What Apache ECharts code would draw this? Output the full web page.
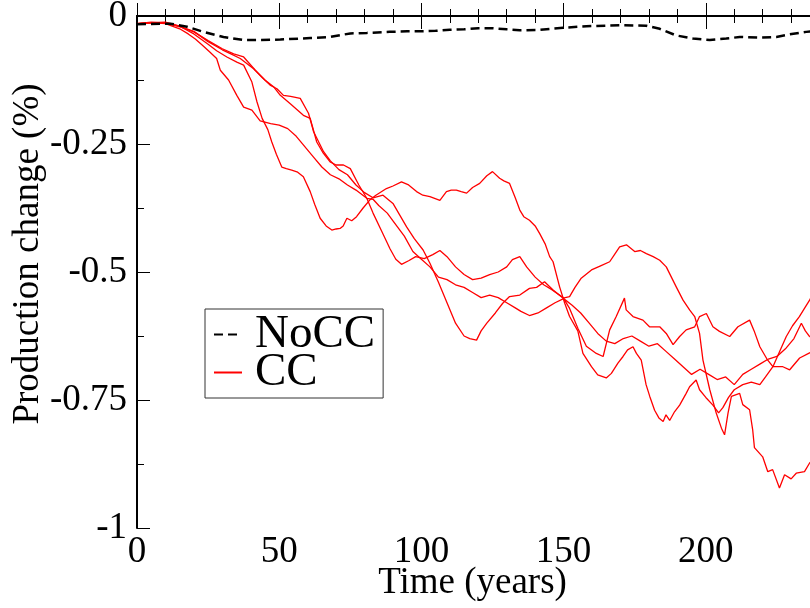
<!DOCTYPE html>
<html>
<head>
<meta charset="utf-8">
<script src="https://cdn.jsdelivr.net/npm/echarts@6/dist/echarts.min.js"></script>
<style>
  html, body { margin: 0; padding: 0; background: #fff; }
  #chart { width: 810px; height: 608px; }
</style>
</head>
<body>
<div id="chart"></div>
<script>
// NoCC run (dashed black)
var noccLine = [
  [0, -0.016], [11.7, -0.015], [17.6, -0.021], [23.4, -0.031], [30.4, -0.041], [37.5, -0.047],
  [42.2, -0.047], [50.4, -0.046], [60.9, -0.043], [67.9, -0.041], [75, -0.034], [80.8, -0.033],
  [88.9, -0.031], [95, -0.030], [100, -0.030], [105, -0.029], [110, -0.027], [115, -0.026],
  [120, -0.024], [125, -0.024], [130, -0.026], [134.6, -0.028], [141.6, -0.027], [149.8, -0.023],
  [158, -0.020], [170.9, -0.018], [179.1, -0.019], [183.8, -0.025], [189.6, -0.038], [195.5, -0.044],
  [201.4, -0.047], [207.2, -0.044], [211.9, -0.041], [218.9, -0.042], [224.8, -0.041], [229.4, -0.036],
  [235.3, -0.031], [240, -0.029]
];

// CC runs (red)
var ccRunA = [
  [0, -0.015], [5, -0.012], [10, -0.014], [15, -0.020], [20, -0.035], [25, -0.055], [28, -0.068],
  [31.6, -0.080], [35.1, -0.090], [37.5, -0.096], [40.4, -0.129], [42.2, -0.168], [44, -0.200],
  [46, -0.222], [47.4, -0.246], [49, -0.270], [50.9, -0.295], [52.5, -0.298], [54.4, -0.301],
  [56.5, -0.305], [58.5, -0.314], [60.9, -0.343], [62.5, -0.368], [64.4, -0.395], [66.5, -0.410],
  [68.5, -0.418], [70, -0.416], [71.4, -0.415], [72.5, -0.410], [73.8, -0.395], [75.5, -0.400],
  [77.2, -0.392], [79.5, -0.375], [81.9, -0.359], [84, -0.350], [87.7, -0.337], [90, -0.332],
  [93, -0.324], [95.5, -0.330], [98.3, -0.343], [100.5, -0.350], [103, -0.353], [106.5, -0.360],
  [108.8, -0.343], [110.5, -0.340], [112.3, -0.340], [114, -0.343], [115.9, -0.346], [118, -0.335],
  [120.5, -0.327], [123, -0.312], [125, -0.304], [127.5, -0.317], [129, -0.322], [131, -0.327],
  [133, -0.355], [134.6, -0.379], [136, -0.392], [138, -0.399], [140, -0.410], [141.6, -0.425],
  [143.5, -0.445], [145.1, -0.470], [146.3, -0.480], [148.6, -0.529], [150.4, -0.561], [152.1, -0.587],
  [155, -0.615], [156.8, -0.659], [159.8, -0.685], [162, -0.701], [165, -0.707], [166.8, -0.698],
  [169.1, -0.678], [170.9, -0.665], [172.5, -0.652], [174.4, -0.646], [175.6, -0.659], [177.3, -0.672],
  [179, -0.720], [180.3, -0.743], [182, -0.770], [183.5, -0.785], [185, -0.792], [186, -0.779],
  [187.3, -0.790], [189, -0.773], [190.8, -0.760], [193.1, -0.737], [194.3, -0.724], [196.6, -0.711],
  [197.8, -0.730], [200, -0.745], [202.5, -0.760], [204.5, -0.775], [206, -0.765], [208, -0.745],
  [210, -0.730], [213, -0.720], [216, -0.715], [219, -0.720], [221, -0.705], [223.6, -0.685],
  [226, -0.655], [228.3, -0.626], [230.5, -0.605], [232.9, -0.587], [234.8, -0.570], [236.5, -0.555],
  [238, -0.540]
];
var ccRunB = [
  [0, -0.015], [5, -0.013], [10, -0.012], [15, -0.020], [20, -0.030], [25, -0.050], [30, -0.066],
  [33, -0.074], [36.3, -0.083], [41, -0.103], [44, -0.120], [46.8, -0.135], [49.2, -0.142],
  [51.5, -0.155], [54, -0.157], [57.4, -0.161], [60.3, -0.190], [62.1, -0.226], [65.6, -0.265],
  [68, -0.283], [71, -0.300], [74, -0.310], [77, -0.330], [80, -0.345], [83, -0.355], [86.5, -0.350],
  [90, -0.366], [92.5, -0.390], [94.8, -0.412], [97.5, -0.435], [100.6, -0.457], [103, -0.483],
  [106, -0.520], [109, -0.560], [112, -0.600], [115, -0.625], [117, -0.630], [119.4, -0.633],
  [121, -0.615], [123, -0.600], [126, -0.580], [128.6, -0.561], [131, -0.548], [134.6, -0.545],
  [138, -0.532], [140.5, -0.530], [143.3, -0.519], [146.3, -0.535], [149.8, -0.551], [152.1, -0.548],
  [154, -0.530], [156.2, -0.512], [159.8, -0.496], [163, -0.488], [166.2, -0.480], [168, -0.465],
  [169.7, -0.451], [172.1, -0.447], [175, -0.460], [177, -0.458], [179.1, -0.464], [181.5, -0.470],
  [183.8, -0.477], [186.1, -0.490], [189.6, -0.529], [192, -0.555], [194.3, -0.574], [196.1, -0.587],
  [197.8, -0.620], [199, -0.672], [201.4, -0.730], [203.7, -0.776], [205.5, -0.805], [206.6, -0.818],
  [207.8, -0.776], [209, -0.743], [211.9, -0.737], [213, -0.759], [215.4, -0.769], [216.5, -0.809],
  [217.1, -0.843], [220, -0.861], [221.8, -0.890], [223.5, -0.886], [225.9, -0.922], [227.7, -0.896],
  [230, -0.904], [231.8, -0.893], [234.7, -0.890], [236.5, -0.873], [238, -0.865]
];
var ccRunC = [
  [0, -0.015], [5, -0.014], [10, -0.013], [15, -0.021], [20, -0.031], [25, -0.048], [30, -0.064],
  [34, -0.074], [37.5, -0.080], [41.6, -0.106], [45, -0.125], [48, -0.138], [50.4, -0.155],
  [54, -0.172], [58.5, -0.194], [60.9, -0.200], [63.2, -0.246], [65.5, -0.268], [67.9, -0.285],
  [70, -0.291], [72.6, -0.291], [75, -0.298], [78, -0.330], [80.8, -0.356], [83, -0.358],
  [85, -0.370], [88, -0.385], [90, -0.400], [94, -0.430], [97, -0.460], [100, -0.475], [103, -0.490],
  [106, -0.510], [109, -0.515], [112, -0.525], [115, -0.530], [118, -0.540], [121, -0.550],
  [124, -0.545], [127, -0.550], [130, -0.560], [133, -0.570], [135, -0.577], [138, -0.585],
  [141, -0.580], [144, -0.570], [147, -0.560], [150, -0.552], [153, -0.565], [156, -0.580],
  [159, -0.600], [162, -0.620], [165, -0.635], [168, -0.640], [171, -0.630], [174, -0.625],
  [177, -0.635], [180, -0.645], [183, -0.640], [186, -0.655], [189, -0.670], [192, -0.685],
  [195, -0.700], [198, -0.690], [201, -0.700], [204, -0.710], [207, -0.705], [210, -0.720],
  [213, -0.700], [216, -0.690], [219, -0.680], [222, -0.670], [225, -0.665], [228, -0.650],
  [231, -0.630], [233.6, -0.600], [235, -0.615], [236.5, -0.626], [238, -0.630]
];
var ccRunD = [
  [0, -0.015], [5, -0.013], [10, -0.015], [15, -0.025], [18, -0.035], [20.5, -0.045], [23, -0.057],
  [25.5, -0.070], [28, -0.083], [29.3, -0.106], [32.2, -0.125], [35.1, -0.155], [37.5, -0.178],
  [40.4, -0.184], [43.3, -0.205], [47, -0.210], [50, -0.213], [53, -0.220], [56, -0.235],
  [59, -0.255], [62, -0.275], [65, -0.295], [68, -0.310], [71, -0.318], [74, -0.330], [77, -0.340],
  [80.8, -0.356], [83, -0.385], [86, -0.420], [89, -0.455], [91, -0.475], [93, -0.485], [95.5, -0.478],
  [98, -0.470], [101, -0.474], [104, -0.466], [106.5, -0.458], [109, -0.470], [112, -0.490],
  [115, -0.505], [118, -0.515], [121, -0.512], [124, -0.505], [127, -0.500], [130, -0.490],
  [132, -0.476], [134.6, -0.470], [137, -0.490], [140, -0.510], [143, -0.525], [146, -0.535],
  [149.8, -0.550], [152, -0.570], [155, -0.610], [158, -0.645], [161.5, -0.659], [163.9, -0.665],
  [166.2, -0.613], [168.5, -0.587], [171.4, -0.551], [172, -0.574], [174.4, -0.587], [177.9, -0.594],
  [180.2, -0.607], [183.8, -0.607], [186.1, -0.620], [188.5, -0.642], [190.8, -0.626], [193.1, -0.613],
  [196.1, -0.607], [197.8, -0.587], [200.2, -0.581], [202.5, -0.607], [204.8, -0.616], [208.4, -0.626],
  [211.3, -0.607], [215.4, -0.594], [217, -0.615], [219, -0.646], [221.5, -0.670], [223.6, -0.685],
  [227.1, -0.685], [229.5, -0.691], [233, -0.668], [236.5, -0.658], [238, -0.655]
];

var ccRuns = [ccRunA, ccRunB, ccRunC, ccRunD];

var serifFont = '"Liberation Serif", "DejaVu Serif", serif';

var chart = echarts.init(document.getElementById('chart'), null, { renderer: 'canvas' });

var series = [{
  name: 'NoCC',
  type: 'line',
  data: noccLine,
  symbol: 'none',
  z: 5,
  lineStyle: { color: '#000', width: 2.5, type: [9, 5] },
  itemStyle: { color: '#000' }
}];
ccRuns.forEach(function (run) {
  series.push({
    name: 'CC',
    type: 'line',
    data: run,
    symbol: 'none',
    z: 3,
    lineStyle: { color: '#ff0000', width: 1.3 },
    itemStyle: { color: '#ff0000' }
  });
});

var xAxisBase = {
  type: 'value',
  min: 0,
  max: 250,
  interval: 50,
  splitLine: { show: false },
  axisLine: { show: true, lineStyle: { color: '#000', width: 2 } },
  axisTick: { show: true, inside: true, length: 13, lineStyle: { color: '#000', width: 1 } },
  minorTick: { show: true, splitNumber: 5, length: 7, lineStyle: { color: '#000', width: 1 } }
};

var op = {
  animation: false,
  backgroundColor: '#fff',
  grid: {
    left: 137,
    right: -38,
    top: 16,
    bottom: 80,
    containLabel: false,
    outerBoundsMode: 'none'
  },
  legend: {
    data: ['NoCC', 'CC'],
    orient: 'vertical',
    left: 205,
    top: 309,
    padding: [2, 8, 2, 8],
    itemGap: -9,
    itemWidth: 28,
    itemHeight: 10,
    borderColor: '#333',
    borderWidth: 1,
    backgroundColor: '#fff',
    selectedMode: false,
    itemStyle: { opacity: 0 },
    textStyle: { fontFamily: serifFont, fontSize: 47, color: '#000', padding: [0, 0, 0, 8] }
  },
  xAxis: [
    Object.assign({}, xAxisBase, {
      position: 'bottom',
      name: 'Time (years)',
      nameLocation: 'middle',
      nameGap: 37,
      nameMoveOverlap: false,
      nameTextStyle: { fontFamily: serifFont, fontSize: 37, color: '#000', padding: [0, 40, 0, 0] },
      axisLabel: {
        show: true,
        margin: 6,
        fontFamily: serifFont,
        fontSize: 37,
        color: '#000'
      }
    }),
    Object.assign({}, xAxisBase, {
      position: 'top',
      axisLabel: { show: false }
    })
  ],
  yAxis: {
    type: 'value',
    min: -1,
    max: 0,
    interval: 0.25,
    name: 'Production change (%)',
    nameLocation: 'middle',
    nameGap: 90,
    nameMoveOverlap: false,
    nameTextStyle: { fontFamily: serifFont, fontSize: 37, color: '#000', padding: [0, 0, 0, 36] },
    splitLine: { show: false },
    axisLine: { show: true, lineStyle: { color: '#000', width: 2 } },
    axisTick: { show: true, inside: true, length: 13, lineStyle: { color: '#000', width: 1 } },
    minorTick: { show: true, splitNumber: 2, length: 7, lineStyle: { color: '#000', width: 1 } },
    axisLabel: { margin: 10, fontFamily: serifFont, fontSize: 37, color: '#000' }
  },
  series: series
};

chart.setOption(op);
</script>
</body>
</html>
